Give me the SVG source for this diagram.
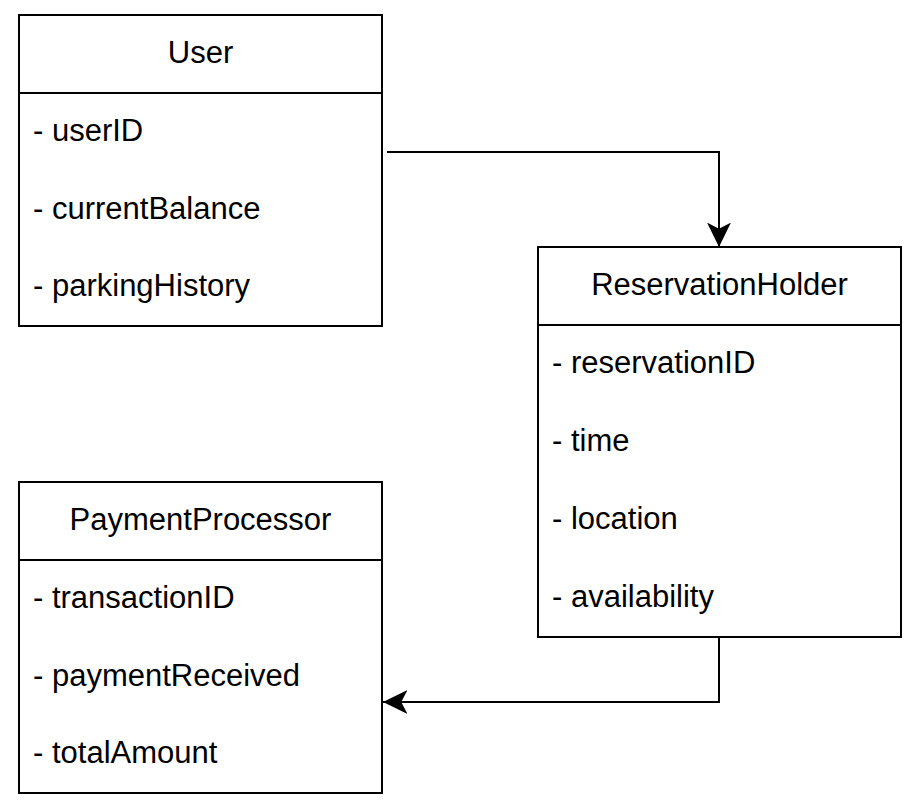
<svg xmlns="http://www.w3.org/2000/svg" width="913" height="809" viewBox="0 0 913 809">
<style>
.box{fill:#fff;stroke:#000;stroke-width:2}
.sep{stroke:#000;stroke-width:2}
.t{font-family:"Liberation Sans",Arial,sans-serif;font-size:31px;fill:#000}
.h{text-anchor:middle}
.edge{fill:none;stroke:#000;stroke-width:2}
</style>
<defs>
<marker id="arr" markerUnits="userSpaceOnUse" markerWidth="25" markerHeight="25" viewBox="0 0 24 23" refX="23.5" refY="11.5" orient="auto">
<path d="M23.5,11.5 L0,0 L6,11.5 L0,23 Z" fill="#000"/>
</marker>
</defs>
<rect width="913" height="809" fill="#fff"/>
<g id="connectors">
<path class="edge" d="M387,152 H719 V247" marker-end="url(#arr)"/>
<path class="edge" d="M719,637 V702 H383" marker-end="url(#arr)"/>
</g>
<g id="User">
<rect class="box" x="19" y="15" width="363" height="311"/>
<line class="sep" x1="19" y1="93" x2="382" y2="93"/>
<text class="t h" x="200.5" y="63">User</text>
<text class="t" x="33" y="141">- userID</text>
<text class="t" x="33" y="219">- currentBalance</text>
<text class="t" x="33" y="296">- parkingHistory</text>
</g>
<g id="ReservationHolder">
<rect class="box" x="538" y="247" width="363" height="390"/>
<line class="sep" x1="538" y1="325" x2="901" y2="325"/>
<text class="t h" x="719.5" y="295">ReservationHolder</text>
<text class="t" x="552" y="373">- reservationID</text>
<text class="t" x="552" y="451">- time</text>
<text class="t" x="552" y="529">- location</text>
<text class="t" x="552" y="607">- availability</text>
</g>
<g id="PaymentProcessor">
<rect class="box" x="19" y="482" width="363" height="311"/>
<line class="sep" x1="19" y1="560" x2="382" y2="560"/>
<text class="t h" x="200.5" y="530">PaymentProcessor</text>
<text class="t" x="33" y="608">- transactionID</text>
<text class="t" x="33" y="686">- paymentReceived</text>
<text class="t" x="33" y="763">- totalAmount</text>
</g>
</svg>
